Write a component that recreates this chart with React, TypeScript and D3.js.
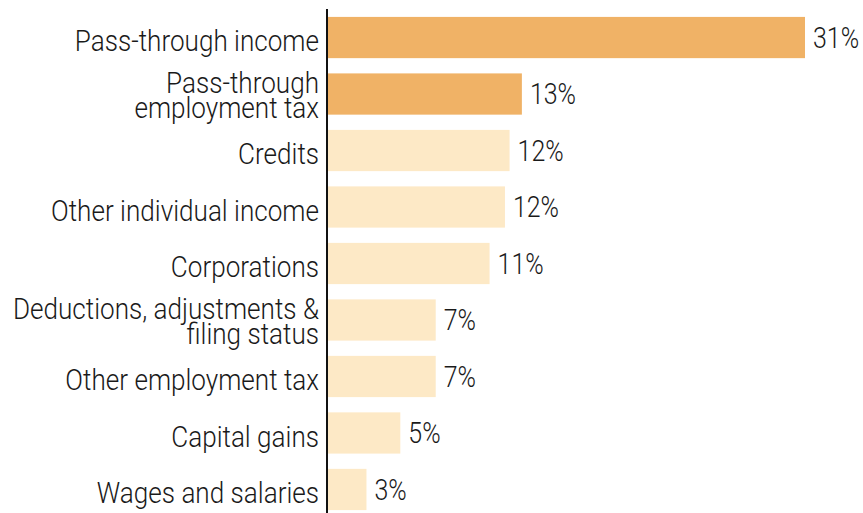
import React, { useRef, useEffect } from 'react';
import * as d3 from 'd3';

// values (share, %)
const categories = [
  'Pass-through income',
  'Pass-through\nemployment tax',
  'Credits',
  'Other individual income',
  'Corporations',
  'Deductions, adjustments &\nfiling status',
  'Other employment tax',
  'Capital gains',
  'Wages and salaries',
];
const shares = [31, 12.6, 11.8, 11.5, 10.5, 7, 7, 4.7, 2.5];
const valueLabels = ['31%', '13%', '12%', '12%', '11%', '7%', '7%', '5%', '3%'];
const highlighted = [true, true, false, false, false, false, false, false, false];

const DARK = '#f0b266';
const LIGHT = '#fde9c6';

const App: React.FC = () => {
  const ref = useRef<SVGSVGElement>(null);

  useEffect(() => {
    if (!ref.current) return;
    const svg = d3.select(ref.current);
    svg.selectAll('*').remove();

    const width = 863;
    const height = 513;
    const margin = { top: 17, right: 58, bottom: 3, left: 328 };

    const y = d3.scaleBand<number>()
      .domain(d3.range(categories.length))
      .range([margin.top - 8, height - margin.bottom + 8])
      .paddingInner(0.27)
      .paddingOuter(0.14);

    const x = d3.scaleLinear()
      .domain([0, 31])
      .range([margin.left, width - margin.right]);

    // condensed look: a light sans, squeezed horizontally
    const font = 'Roboto, "Open Sans", sans-serif';
    const fs = 29;
    const squeezeCat = 0.9;
    const squeezeVal = 0.86;

    svg.append('g')
      .selectAll('rect')
      .data(shares)
      .enter()
      .append('rect')
      .attr('x', x(0))
      .attr('y', (d, i) => y(i)!)
      .attr('width', d => x(d) - x(0))
      .attr('height', y.bandwidth())
      .attr('fill', (d, i) => (highlighted[i] ? DARK : LIGHT));

    // value labels
    svg.append('g')
      .selectAll('text')
      .data(shares)
      .enter()
      .append('text')
      .attr('transform', (d, i) =>
        `translate(${x(d) + 8},${y(i)! + y.bandwidth() / 2}) scale(${squeezeVal},1)`)
      .attr('dy', '0.36em')
      .attr('font-family', font)
      .attr('font-weight', 300)
      .attr('font-size', fs)
      .attr('fill', '#1a1a1a')
      .text((d, i) => valueLabels[i]);

    // category labels
    const lab = svg.append('g')
      .selectAll('text')
      .data(categories)
      .enter()
      .append('text')
      .attr('transform', (d, i) =>
        `translate(${x(0) - 9},${y(i)! + y.bandwidth() / 2}) scale(${squeezeCat},1)`)
      .attr('text-anchor', 'end')
      .attr('font-family', font)
      .attr('font-weight', 300)
      .attr('font-size', fs)
      .attr('fill', '#1a1a1a');

    lab.each(function (d) {
      const lines = d.split('\n');
      const t = d3.select(this);
      lines.forEach((line, j) => {
        let dy = '0.47em';
        if (lines.length > 1) dy = j === 0 ? '-0.02em' : '0.85em';
        t.append('tspan')
          .attr('x', 0)
          .attr('dy', dy)
          .text(line);
      });
    });

    // axis line
    svg.append('line')
      .attr('x1', x(0) - 1)
      .attr('x2', x(0) - 1)
      .attr('y1', 9)
      .attr('y2', height)
      .attr('stroke', '#111')
      .attr('stroke-width', 2);
  }, []);

  return (
    <svg
      ref={ref}
      width={863}
      height={513}
      style={{ position: 'absolute', left: 0, top: 0, background: '#fff' }}
    />
  );
};

export default App;
